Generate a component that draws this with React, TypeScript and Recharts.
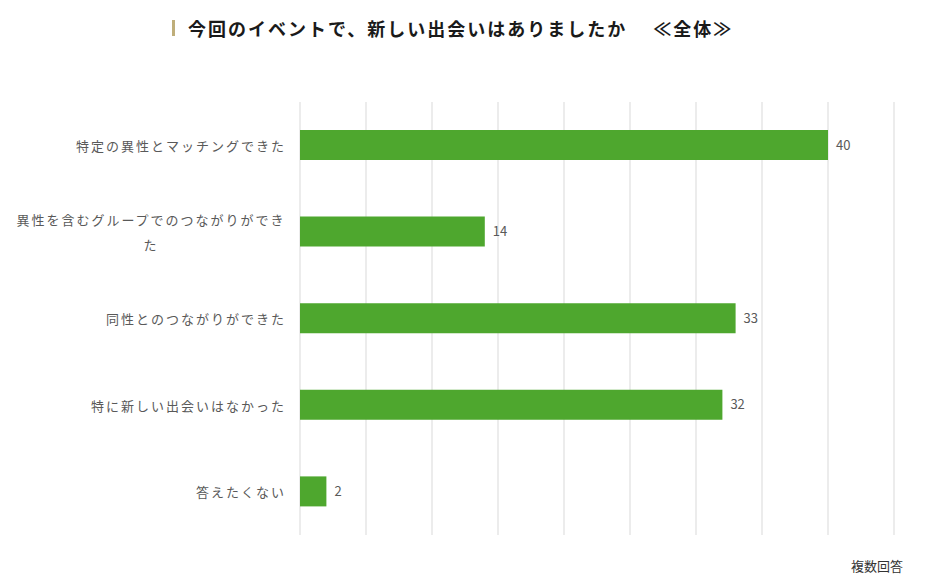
import { BarChart, Bar, XAxis, YAxis, CartesianGrid, LabelList } from "recharts";

const categories = [
  "特定の異性とマッチングできた",
  "異性を含むグループでのつながりができた",
  "同性とのつながりができた",
  "特に新しい出会いはなかった",
  "答えたくない",
];
const counts = [40, 14, 33, 32, 2];
const xTicks = [0, 5, 10, 15, 20, 25, 30, 35, 40, 45];

const chartData = categories.map((name, i) => ({ name, value: counts[i] }));

const FONT = '"Noto Sans CJK JP", "Noto Sans", sans-serif';
const CHARS_PER_LINE = 18;
const CHAR_W = 15;

// wraps long japanese labels every 18 chars, lines centred in the block
const CategoryTick = (props: any) => {
  const { x, y, payload } = props;
  const label: string = payload.value;
  const lines: string[] = [];
  for (let i = 0; i < label.length; i += CHARS_PER_LINE) lines.push(label.slice(i, i + CHARS_PER_LINE));
  const blockW = Math.max(...lines.map((l) => l.length)) * CHAR_W;
  const lineHeight = 25;
  const start = -((lines.length - 1) * lineHeight) / 2;
  return (
    <g>
      {lines.map((line, i) => (
        <text
          key={i}
          x={x - blockW / 2}
          y={y + start + i * lineHeight}
          textAnchor="middle"
          dominantBaseline="central"
          fill="#595959"
          fontSize={13}
          letterSpacing={2}
          fontFamily={FONT}
        >
          {line}
        </text>
      ))}
    </g>
  );
};

const NoTick = () => <g />;

const App = () => {
  return (
    <div
      style={{
        position: "absolute",
        left: 0,
        top: 0,
        width: 927,
        height: 583,
        background: "#fff",
        fontFamily: FONT,
      }}
    >
      <div
        style={{
          position: "absolute",
          left: 172,
          top: 20,
          width: 3,
          height: 16,
          background: "#bfae7a",
        }}
      />
      <div
        style={{
          position: "absolute",
          left: 188,
          top: 16,
          fontSize: 18,
          fontWeight: 700,
          letterSpacing: 2,
          color: "#1a1a1a",
          lineHeight: "24px",
          whiteSpace: "pre",
        }}
      >
        {"今回のイベントで、新しい出会いはありましたか　 ≪全体≫"}
      </div>
      <BarChart
        width={927}
        height={583}
        data={chartData}
        layout="vertical"
        barSize={30}
        margin={{ top: 102, right: 33, bottom: 48, left: 0 }}
      >
        <CartesianGrid horizontal={false} stroke="#d9d9d9" />
        <XAxis
          type="number"
          domain={[0, 45]}
          ticks={xTicks}
          interval={0}
          tick={<NoTick />}
          tickLine={false}
          axisLine={false}
          height={0}
        />
        <YAxis
          type="category"
          dataKey="name"
          width={300}
          tickLine={false}
          axisLine={false}
          tickMargin={8}
          tick={<CategoryTick />}
        />
        <Bar dataKey="value" fill="#4ea72e" isAnimationActive={false}>
          <LabelList
            dataKey="value"
            position="right"
            offset={8}
            fill="#595959"
            fontSize={13}
            fontFamily={FONT}
          />
        </Bar>
      </BarChart>
      <div
        style={{
          position: "absolute",
          left: 851,
          top: 558,
          fontSize: 13,
          color: "#333",
          lineHeight: "16px",
        }}
      >
        複数回答
      </div>
    </div>
  );
};

export default App;
